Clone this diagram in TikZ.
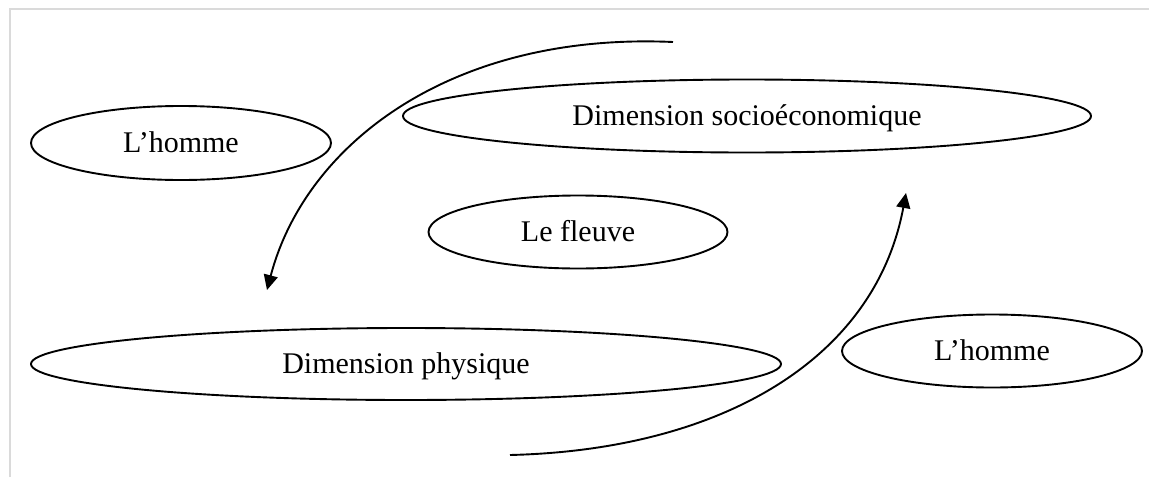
\documentclass[tikz,border=0pt]{standalone}
\usepackage{fontspec}
\setmainfont{Liberation Serif}
\usetikzlibrary{shapes.geometric,arrows.meta}
\begin{document}
\begin{tikzpicture}[x=1pt,y=-1pt,
  oval/.style={draw=black,line width=1.9pt,ellipse,inner sep=0pt,
    text height=19.8pt,text depth=0pt,font=\fontsize{30}{35}\selectfont},
  curvearrow/.style={draw=black,line width=1.9pt,-{Triangle[length=15pt,width=14pt]}},
  frameline/.style={draw={rgb,255:red,218;green,218;blue,218},line width=2pt}]
\useasboundingbox (0,0) rectangle (1149,477);
\coordinate (fa) at (10,477);
\coordinate (fb) at (10,9);
\coordinate (fc) at (1149,9);
\draw[frameline] (fa) -- (fb) -- (fc);
\node[oval,minimum width=300pt,minimum height=74pt] (h1) at (181,143) {L’homme};
\node[oval,minimum width=688pt,minimum height=73pt] (se) at (747,116) {Dimension socioéconomique};
\node[oval,minimum width=299pt,minimum height=73pt] (fl) at (578,232) {Le fleuve};
\node[oval,minimum width=750pt,minimum height=72pt] (ph) at (406,364) {Dimension physique};
\node[oval,minimum width=300pt,minimum height=73pt] (h2) at (992,351) {L’homme};
\coordinate (a1s) at (673,42);
\coordinate (a1e) at (267,290);
\coordinate (a2s) at (510,455);
\coordinate (a2e) at (906,193);
\draw[curvearrow] (a1s) .. controls (450,32) and (305,145) .. (a1e);
\draw[curvearrow] (a2s) .. controls (720,450) and (875,360) .. (a2e);
\end{tikzpicture}
\end{document}
